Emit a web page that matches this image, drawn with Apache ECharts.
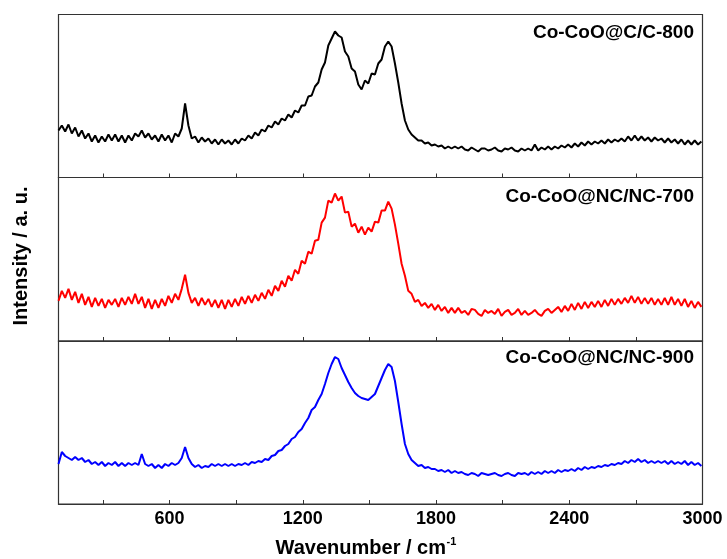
<!DOCTYPE html>
<html>
<head>
<meta charset="utf-8">
<script src="https://cdn.jsdelivr.net/npm/echarts@6/dist/echarts.min.js"></script>
<style>html,body{margin:0;padding:0;background:#fff;}#c{width:727px;height:559px;}</style>
</head>
<body>
<div id="c"></div>
<script>
// Raman shift sampling (cm^-1)
const WN_START = 100, WN_STEP = 15, WN_COUNT = 194;
const xTicks = [300, 600, 900, 1200, 1500, 1800, 2100, 2400, 2700, 3000];
const xLabels = [600, 1200, 1800, 2400, 3000];
const sampleNames = ['Co-CoO@C/C-800', 'Co-CoO@NC/NC-700', 'Co-CoO@NC/NC-900'];

// Intensity (a.u.)
const c800 = [47,52,46,53,44,50,41,47,39,44, 36,42,35,41,36,43,37,43,36,42, 35,42,37,44,41,47,40,44,38,42,
  36,43,37,42,35,44,41,49,74,52, 39,41,35,40,36,39,34,38,33,38, 34,37,33,38,34,39,37,42,39,45,
  42,48,46,52,50,56,53,59,57,63, 60,67,65,72,72,81,82,91,95,108, 115,132,139,146,142,140,126,121,109,106,
  93,88,97,94,104,103,114,118,131,136, 131,114,95,74,57,48,43,40,37,37, 34,35,32,33,31,32,29,31,29,31,
  29,31,28,27,30,28,26,29,29,27, 28,30,27,26,29,28,30,27,26,29, 27,29,27,33,27,30,28,31,28,31,
  29,32,30,33,30,34,31,35,32,36, 33,36,34,37,34,38,35,38,36,39, 36,41,37,42,37,41,37,40,36,40,
  37,39,35,39,35,38,34,38,33,37, 33,37,33,36];
const nc700 = [40,50,43,52,41,49,38,47,36,44, 34,43,35,42,33,41,36,42,34,43, 36,44,37,47,37,44,33,42,32,41,
  33,42,35,45,38,47,41,52,66,48, 38,43,35,43,36,42,34,41,33,41, 32,41,34,42,35,44,37,45,38,46,
  40,48,42,51,45,55,50,60,54,65, 60,71,67,80,77,89,87,100,101,118, 123,140,138,147,140,144,128,129,114,117,
  108,114,106,113,109,119,118,130,130,139, 132,116,97,77,65,50,47,39,41,35, 38,33,37,31,36,30,34,28,33,28,
  33,28,30,26,32,31,27,25,31,28, 30,27,32,25,29,31,26,28,32,26, 30,26,28,31,27,25,30,32,28,31,
  34,29,35,30,37,31,38,32,39,33, 39,34,40,34,41,35,42,36,42,37, 43,38,45,38,44,37,43,37,43,36,
  42,36,43,36,44,36,42,35,42,34, 40,33,39,34];
const nc900 = [40,52,48,46,44,47,44,46,42,44, 40,42,39,42,38,41,39,42,38,41, 38,41,39,41,39,50,40,38,40,36,
  39,36,40,38,41,39,41,46,57,46, 40,37,39,36,38,37,40,38,40,38, 40,38,40,38,40,39,41,39,42,41,
  43,42,45,44,48,49,53,54,58,60, 65,67,72,75,81,86,94,97,104,110, 120,131,140,147,145,136,129,122,116,111,
  108,106,105,104,107,110,118,126,134,140, 137,123,102,80,60,50,44,41,38,39, 36,37,35,35,33,34,32,34,31,33,
  31,32,30,29,31,30,28,31,30,29, 30,31,29,28,30,31,29,28,31,30, 31,29,32,30,32,30,33,31,33,31,
  34,32,34,33,35,33,36,34,37,35, 37,36,38,37,39,38,40,39,41,40, 43,41,44,42,45,42,44,41,43,41,
  43,41,43,40,43,40,42,40,43,39, 42,39,41,38];

const seriesValues = [c800, nc700, nc900];
const colors = ['#000000', '#ff0000', '#0000ff'];

const FONT = "'Liberation Sans', Arial, Helvetica, sans-serif";
const wn = [];
for (let i = 0; i < WN_COUNT; i++) wn.push(WN_START + WN_STEP * i);

const gridTops = [14.5, 177.5, 341];
const gridHeights = [163, 163.5, 163];

const grids = [], xAxes = [], yAxes = [], series = [];
for (let k = 0; k < 3; k++) {
  grids.push({left: 58.5, right: 24.5, top: gridTops[k], height: gridHeights[k],
    show: true, borderColor: '#333', borderWidth: 1.2, backgroundColor: 'transparent'});
  xAxes.push({
    gridIndex: k, type: 'value', min: 100, max: 3000,
    axisLine: {show: true, lineStyle: {color: '#333', width: 1.2}},
    axisTick: {show: true, inside: true, length: 4, customValues: xTicks, lineStyle: {color: '#333', width: 1}},
    axisLabel: {show: k === 2, customValues: xLabels, fontSize: 18, fontWeight: 'bold', color: '#000',
      fontFamily: FONT, margin: 6, formatter: v => String(v)},
    splitLine: {show: false}
  });
  yAxes.push({gridIndex: k, type: 'value', min: 0, max: 163, show: false});
  const vals = seriesValues[k];
  series.push({
    type: 'line', xAxisIndex: k, yAxisIndex: k, showSymbol: false, silent: true,
    data: wn.map((w, i) => [w, vals[i]]),
    lineStyle: {color: colors[k], width: 2}, itemStyle: {color: colors[k]}
  });
}

const labelY = [33, 197, 358];
const graphics = sampleNames.map((n, k) => ({
  type: 'text', x: 694, y: labelY[k],
  style: {text: n, font: 'bold 19px ' + FONT, fill: '#000', textAlign: 'right', textVerticalAlign: 'middle'}
}));
graphics.push({type: 'text', x: 21, y: 256, rotation: Math.PI / 2,
  style: {text: 'Intensity / a. u.', font: 'bold 20px ' + FONT, fill: '#000', textAlign: 'center', textVerticalAlign: 'middle'}});
graphics.push({type: 'text', x: 446, y: 548,
  style: {text: 'Wavenumber / cm', font: 'bold 20px ' + FONT, fill: '#000', textAlign: 'right', textVerticalAlign: 'middle'}});
graphics.push({type: 'text', x: 446.5, y: 542,
  style: {text: '-1', font: 'bold 11px ' + FONT, fill: '#000', textAlign: 'left', textVerticalAlign: 'middle'}});

const chart = echarts.init(document.getElementById('c'), null, {renderer: 'canvas'});
chart.setOption({
  animation: false,
  backgroundColor: '#fff',
  grid: grids, xAxis: xAxes, yAxis: yAxes, series: series,
  graphic: graphics
});
</script>
</body>
</html>
